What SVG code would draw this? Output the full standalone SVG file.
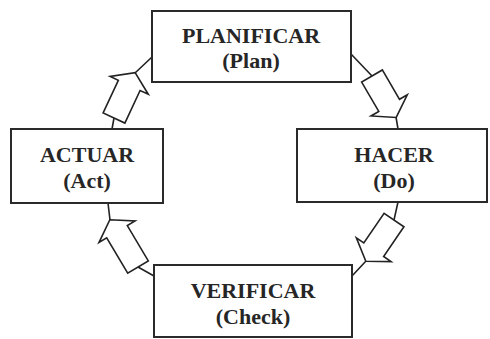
<svg xmlns="http://www.w3.org/2000/svg" width="490" height="339" viewBox="0 0 490 339">
  <style>
    .box { fill: #ffffff; stroke: #2a2a2a; stroke-width: 2; }
    .lbl { font-family: "Liberation Serif", "Times New Roman", serif; font-weight: bold; font-size: 22px; fill: #262626; text-anchor: middle; }
    .stem { fill: none; stroke: #222; stroke-width: 1.6; stroke-linecap: round; }
    .blk { fill: #ffffff; stroke: #222; stroke-width: 1.6; stroke-linejoin: miter; }
  </style>
  <rect width="490" height="339" fill="#ffffff"/>

  <!-- connectors: block arrows with short stems to the boxes -->
  <g id="connectors">
    <!-- ACTUAR -> PLANIFICAR -->
    <path class="stem" d="M112,129 L114,118 M135,73 L152,57"/>
    <path class="blk" transform="translate(114,118) rotate(-65)" d="M0,-12 H36 V-21 L50,0 L36,21 V12 H0 Z"/>
    <!-- PLANIFICAR -> HACER -->
    <path class="stem" d="M351,54 L372,76 M396,117 L398,129"/>
    <path class="blk" transform="translate(372,76) rotate(59.7)" d="M0,-12 H34 V-21 L48,0 L34,21 V12 H0 Z"/>
    <!-- HACER -> VERIFICAR -->
    <path class="stem" d="M398,202 L394,220 M366,261 L352,276"/>
    <path class="blk" transform="translate(394,220) rotate(124.3)" d="M0,-12 H36 V-21 L50,0 L36,21 V12 H0 Z"/>
    <!-- VERIFICAR -> ACTUAR -->
    <path class="stem" d="M154,276 L138,267 M110,220 L108,203"/>
    <path class="blk" transform="translate(138,267) rotate(-120.8)" d="M0,-12 H41 V-21 L55,0 L41,21 V12 H0 Z"/>
  </g>

  <g id="planificar">
    <rect class="box" x="152" y="11" width="199" height="71"/>
    <text class="lbl" x="251" y="43">PLANIFICAR</text>
    <text class="lbl" x="251" y="68">(Plan)</text>
  </g>

  <g id="hacer">
    <rect class="box" x="297" y="129" width="190" height="73"/>
    <text class="lbl" x="394" y="162">HACER</text>
    <text class="lbl" x="394" y="188">(Do)</text>
  </g>

  <g id="verificar">
    <rect class="box" x="154" y="265" width="198" height="72"/>
    <text class="lbl" x="253" y="298">VERIFICAR</text>
    <text class="lbl" x="253" y="324">(Check)</text>
  </g>

  <g id="actuar">
    <rect class="box" x="11" y="129" width="152" height="74"/>
    <text class="lbl" x="87" y="162">ACTUAR</text>
    <text class="lbl" x="87" y="188">(Act)</text>
  </g>
</svg>
